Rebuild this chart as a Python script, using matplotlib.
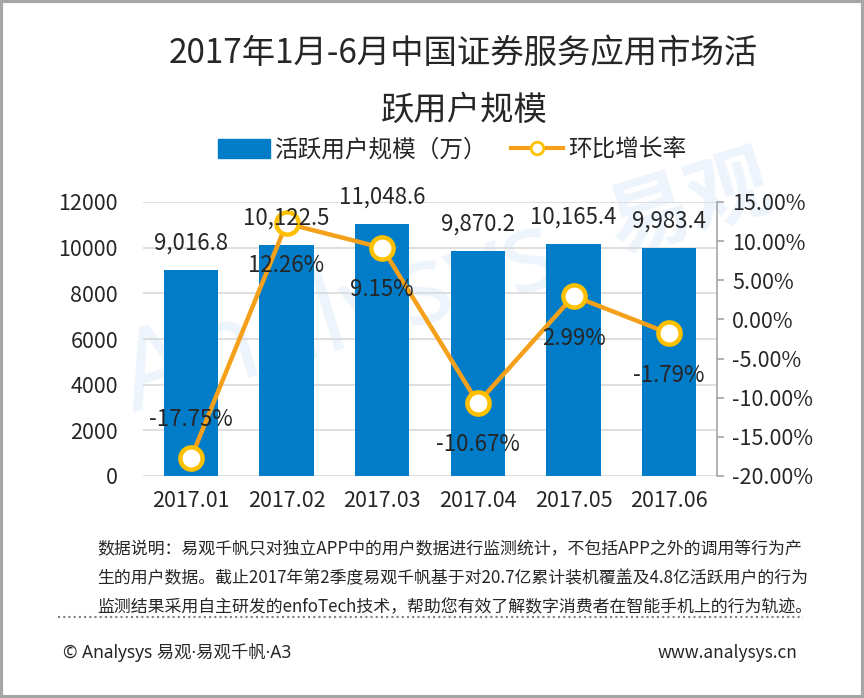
"""Recreate the Analysys securities-app active-user chart (Jan-Jun 2017)."""
import matplotlib
matplotlib.use("Agg")
import matplotlib.pyplot as plt
from matplotlib.lines import Line2D
from matplotlib.patches import Patch, Rectangle

plt.rcParams["font.family"] = ["Noto Sans CJK SC", "DejaVu Sans"]

months = ["2017.01", "2017.02", "2017.03", "2017.04", "2017.05", "2017.06"]
users = [9016.8, 10122.5, 11048.6, 9870.2, 10165.4, 9983.4]        # 万
mom = [-17.75, 12.26, 9.15, -10.67, 2.99, -1.79]                    # %
user_labels = ["9,016.8", "10,122.5", "11,048.6", "9,870.2", "10,165.4", "9,983.4"]
mom_labels = ["-17.75%", "12.26%", "9.15%", "-10.67%", "2.99%", "-1.79%"]
left_ticks = [0, 2000, 4000, 6000, 8000, 10000, 12000]
right_ticks = [-20, -15, -10, -5, 0, 5, 10, 15]

BLUE = "#007CC8"
ORANGE = "#F5A01A"
GOLD = "#FFC000"
TXT = "#262626"
GRID = "#D9D9D9"
WMARK = "#EDF4FB"

W, H = 864, 698
fig = plt.figure(figsize=(W / 100, H / 100), dpi=100)

ax = fig.add_axes([143 / W, 1 - 476 / H, (717 - 143) / W, (476 - 202) / H])
ax2 = ax.twinx()
ax.patch.set_visible(False)
ax2.patch.set_visible(False)

# faint watermark behind bars and labels
ax.text(340 / W, 1 - 320 / H, "Analysys", transform=fig.transFigure,
        ha="center", va="center", fontsize=80, rotation=17, color=WMARK,
        family="Noto Sans", fontweight="bold", zorder=0.5)
ax.text(690 / W, 1 - 205 / H, "易观", transform=fig.transFigure,
        ha="center", va="center", fontsize=60, rotation=17, color=WMARK,
        fontweight="bold", zorder=0.5)

x = range(len(months))
ax.bar(x, users, width=0.57, color=BLUE, zorder=2)
ax.set_xlim(-0.5, len(months) - 0.5)
ax.set_ylim(0, 12000)
ax.set_yticks(left_ticks)
ax.set_yticklabels([str(t) for t in left_ticks])
ax.yaxis.grid(True, color=GRID, lw=1.2, zorder=1)
ax.set_xticks(list(x))
ax.set_xticklabels(months)
ax.tick_params(axis="both", length=0, labelsize=15.5, colors=TXT, pad=10)
ax.tick_params(axis="y", pad=18)
for s in ax.spines.values():
    s.set_visible(False)

ax2.plot(list(x), mom, color=ORANGE, lw=3.2, marker="o", ms=16,
         mfc="white", mec=GOLD, mew=3.2, zorder=4)
ax2.set_ylim(-20, 15)
ax2.set_yticks(right_ticks)
ax2.set_yticklabels([f"{t:.2f}%" for t in right_ticks])
ax2.tick_params(axis="y", length=5, width=1.2, color="#A6A6A6",
                labelsize=15.5, labelcolor=TXT, pad=6)
for name, s in ax2.spines.items():
    s.set_visible(name == "right")
ax2.spines["right"].set_color("#A6A6A6")
ax2.spines["right"].set_linewidth(1.2)

# bar value labels, drawn on top of the line
for i, (v, lab) in enumerate(zip(users, user_labels)):
    ax2.annotate(lab, (i, v), xycoords=ax.transData, xytext=(0, 27),
                 textcoords="offset pixels", ha="center", va="center",
                 fontsize=16, color=TXT, zorder=6)

for i, (v, lab) in enumerate(zip(mom, mom_labels)):
    dy = 39 if i == 0 else -42
    ax2.annotate(lab, (i, v), xytext=(0, dy), textcoords="offset pixels",
                 ha="center", va="center", fontsize=16, color=TXT, zorder=6)

# title
fig.text(463 / W, 1 - 53 / H, "2017年1月-6月中国证券服务应用市场活",
         ha="center", va="center", fontsize=24, color=TXT)
fig.text(464 / W, 1 - 110 / H, "跃用户规模",
         ha="center", va="center", fontsize=24, color=TXT)

# legend
handles = [Patch(color=BLUE),
           Line2D([0], [0], color=ORANGE, lw=3, marker="o", ms=9,
                  mfc="white", mec=GOLD, mew=2)]
fig.legend(handles, ["活跃用户规模（万）", "环比增长率"], loc="center",
           bbox_to_anchor=(452 / W, 1 - 150 / H), ncol=2, frameon=False,
           fontsize=17, handlelength=2.2, handleheight=0.9,
           columnspacing=1.0, handletextpad=0.2, labelcolor=TXT)

# footnote
notes = [
    "数据说明：易观千帆只对独立APP中的用户数据进行监测统计，不包括APP之外的调用等行为产",
    "生的用户数据。截止2017年第2季度易观千帆基于对20.7亿累计装机覆盖及4.8亿活跃用户的行为",
    "监测结果采用自主研发的enfoTech技术，帮助您有效了解数字消费者在智能手机上的行为轨迹。",
]
for k, line in enumerate(notes):
    fig.text(97 / W, 1 - (549 + 29 * k) / H, line, ha="left", va="center",
             fontsize=12.2, color=TXT)

fig.add_artist(Line2D([58 / W, 803 / W], [1 - 617 / H] * 2, color="#7F7F7F",
                      lw=1.5, ls=(0, (1, 1.5))))
fig.text(63 / W, 1 - 653 / H, "© Analysys 易观·易观千帆·A3", ha="left",
         va="center", fontsize=12.5, color=TXT,
         family=["Noto Sans", "Noto Sans CJK SC"])
fig.text(797 / W, 1 - 653 / H, "www.analysys.cn", ha="right",
         va="center", fontsize=12.5, color=TXT)

# outer frame
fig.add_artist(Rectangle((0.0015, 0.002), 0.997, 0.996, transform=fig.transFigure,
                         fill=False, ec="#A6A6A6", lw=3))

fig.savefig("out.png", dpi=100)
